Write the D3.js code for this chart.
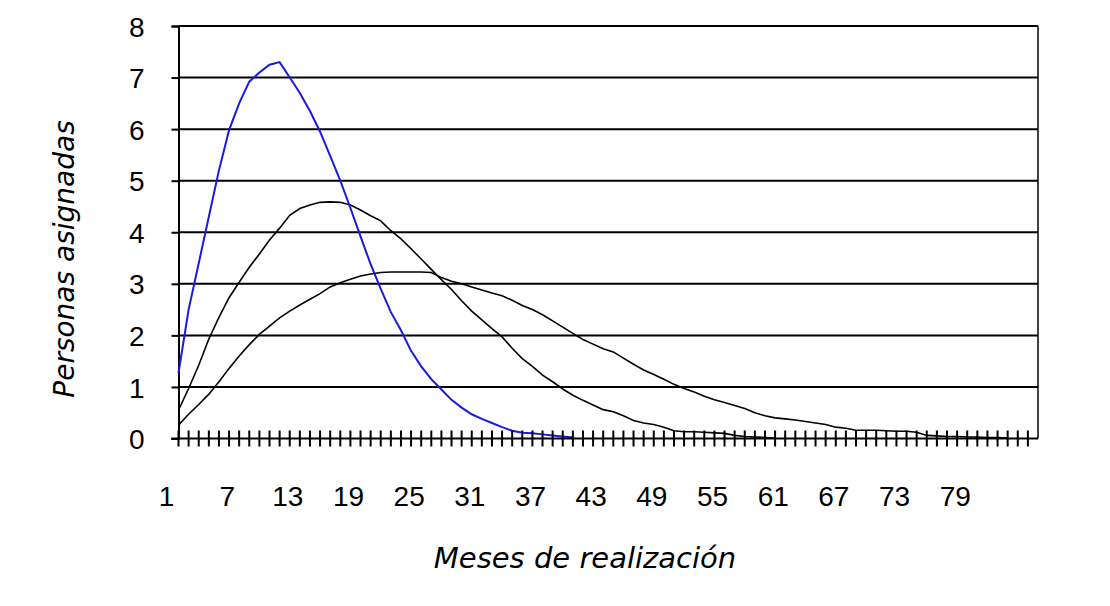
<!DOCTYPE html>
<html>
<head>
<meta charset="utf-8">
<script src="https://cdn.jsdelivr.net/npm/d3@7"></script>
<style>
  body { margin: 0; background: #fff; }
  text { font-family: "Liberation Sans", "DejaVu Sans", sans-serif; fill: #000; }
  .title { font-family: "DejaVu Sans", sans-serif; }
</style>
</head>
<body>
<div id="chart"></div>
<script>
// months 1..86 on the category axis
var months = d3.range(1, 87);
var monthLabels = [1, 7, 13, 19, 25, 31, 37, 43, 49, 55, 61, 67, 73, 79];
var yTicks = [0, 1, 2, 3, 4, 5, 6, 7, 8];

// blue curve (short project)
var serieA = [1.27, 2.5, 3.4, 4.3, 5.2, 5.98, 6.5, 6.92, 7.1, 7.25,
  7.3, 7.0, 6.7, 6.35, 5.95, 5.48, 5.0, 4.47, 3.92, 3.38,
  2.9, 2.45, 2.1, 1.7, 1.4, 1.15, 0.95, 0.75, 0.6, 0.47,
  0.38, 0.3, 0.22, 0.15, 0.11, 0.1, 0.08, 0.06, 0.04, 0.02];

// middle black curve
var serieB = [0.55, 0.97, 1.42, 1.93, 2.35, 2.73, 3.03, 3.32, 3.58, 3.85,
  4.08, 4.33, 4.46, 4.53, 4.58, 4.59, 4.58, 4.53, 4.43, 4.32,
  4.22, 4.03, 3.87, 3.68, 3.48, 3.28, 3.08, 2.89, 2.67, 2.47,
  2.3, 2.13, 1.97, 1.75, 1.55, 1.4, 1.23, 1.1, 0.96, 0.84,
  0.74, 0.65, 0.56, 0.52, 0.44, 0.35, 0.3, 0.27, 0.22, 0.15,
  0.13, 0.13, 0.12, 0.11, 0.1, 0.06, 0.04, 0.03, 0.02, 0.01];

// long black curve
var serieC = [0.26, 0.47, 0.66, 0.86, 1.1, 1.36, 1.6, 1.82, 2.02, 2.18,
  2.34, 2.47, 2.59, 2.7, 2.81, 2.94, 3.02, 3.09, 3.15, 3.19,
  3.22, 3.23, 3.23, 3.23, 3.23, 3.22, 3.12, 3.05, 3.0, 2.94,
  2.88, 2.82, 2.77, 2.68, 2.58, 2.5, 2.4, 2.28, 2.16, 2.04,
  1.92, 1.83, 1.74, 1.68, 1.56, 1.44, 1.33, 1.24, 1.15, 1.05,
  0.97, 0.9, 0.82, 0.75, 0.7, 0.64, 0.58, 0.5, 0.44, 0.4,
  0.38, 0.36, 0.33, 0.3, 0.27, 0.22, 0.2, 0.16, 0.16, 0.16,
  0.15, 0.14, 0.14, 0.12, 0.06, 0.05, 0.04, 0.04, 0.03, 0.03,
  0.02, 0.02, 0.01];

var width = 1110, height = 606;
var margin = {left: 178.5, right: 72, top: 26, bottom: 167.5};

var svg = d3.select("#chart").append("svg")
    .attr("width", width)
    .attr("height", height);

var x = d3.scalePoint()
    .domain(months)
    .range([margin.left, width - margin.right]);

var y = d3.scaleLinear()
    .domain([0, 8])
    .range([height - margin.bottom, margin.top]);

// horizontal grid
svg.append("g")
  .selectAll("line")
  .data(yTicks.slice(1))
  .enter().append("line")
    .attr("x1", margin.left)
    .attr("x2", width - margin.right)
    .attr("y1", function(d) { return y(d); })
    .attr("y2", function(d) { return y(d); })
    .attr("stroke", "#000")
    .attr("stroke-width", 2);

// right border
svg.append("line")
    .attr("x1", width - margin.right).attr("x2", width - margin.right)
    .attr("y1", y(8)).attr("y2", y(0))
    .attr("stroke", "#000").attr("stroke-width", 1.5);

// y axis
var yAxis = svg.append("g")
    .attr("transform", "translate(" + margin.left + ",0)")
    .call(d3.axisLeft(y).tickValues(yTicks).tickSize(7).tickPadding(27));
yAxis.select(".domain").attr("stroke", "#000").attr("stroke-width", 2);
yAxis.selectAll(".tick line").attr("stroke-width", 2);
yAxis.selectAll("text").style("font-size", "28px").attr("dy", "0.36em");

// lines
var line = d3.line()
    .x(function(d, i) { return x(months[i]); })
    .y(function(d) { return y(d); });

svg.append("path").datum(serieC)
    .attr("fill", "none").attr("stroke", "#000").attr("stroke-width", 1.6)
    .attr("d", line);
svg.append("path").datum(serieB)
    .attr("fill", "none").attr("stroke", "#000").attr("stroke-width", 1.6)
    .attr("d", line);
svg.append("path").datum(serieA)
    .attr("fill", "none").attr("stroke", "#1a1adf").attr("stroke-width", 2)
    .attr("d", line);

// x axis with crossing ticks
var xAxis = svg.append("g");
xAxis.append("line")
    .attr("x1", margin.left - 7).attr("x2", width - margin.right)
    .attr("y1", y(0)).attr("y2", y(0))
    .attr("stroke", "#000").attr("stroke-width", 2);
xAxis.selectAll(".xt")
  .data(months.slice(0, months.length - 1))
  .enter().append("line")
    .attr("class", "xt")
    .attr("x1", function(d) { return x(d); })
    .attr("x2", function(d) { return x(d); })
    .attr("y1", y(0) - 8)
    .attr("y2", y(0) + 8)
    .attr("stroke", "#000")
    .attr("stroke-width", 2);

xAxis.selectAll(".xl")
  .data(monthLabels)
  .enter().append("text")
    .attr("class", "xl")
    .attr("x", function(d) { return x(d) - 12; })
    .attr("y", 506)
    .attr("text-anchor", "middle")
    .style("font-size", "28px")
    .text(function(d) { return d; });

// axis titles
svg.append("text")
    .attr("class", "title")
    .attr("x", 585)
    .attr("y", 568)
    .attr("text-anchor", "middle")
    .style("font-size", "29px")
    .style("font-style", "italic")
    .text("Meses de realización");

svg.append("text")
    .attr("class", "title")
    .attr("transform", "translate(74,259) rotate(-90)")
    .attr("text-anchor", "middle")
    .style("font-size", "28px")
    .style("font-style", "italic")
    .text("Personas asignadas");
</script>
</body>
</html>
